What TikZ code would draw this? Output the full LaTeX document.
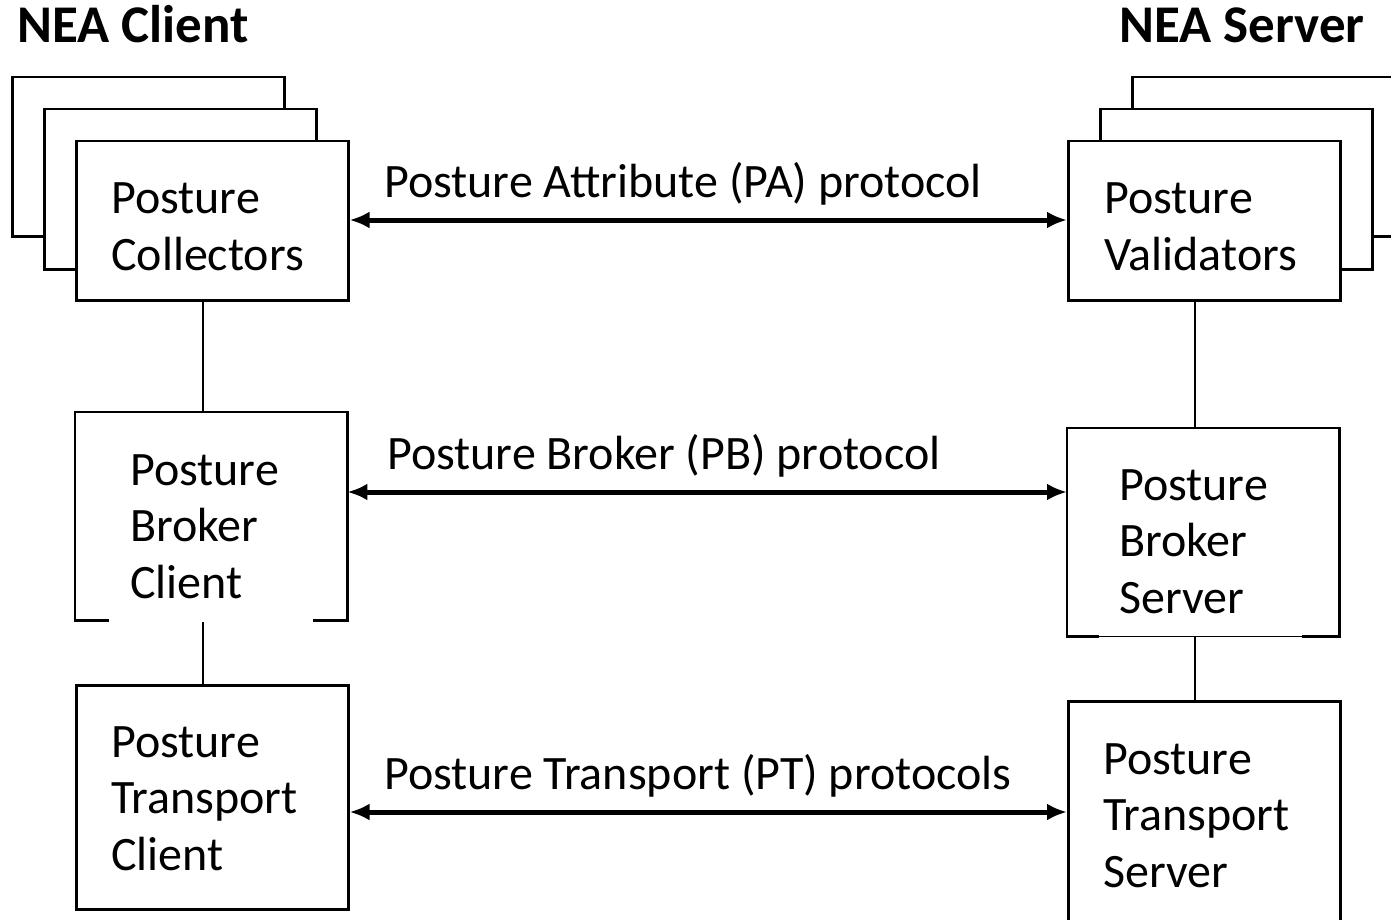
\documentclass[tikz,border=0pt]{standalone}
\usepackage{fontspec}
\setmainfont{Carlito}
\usetikzlibrary{arrows.meta}
\newcommand\twolines[2]{\vtop{\hbox{#1}\hbox{#2}}}
\newcommand\threelines[3]{\vtop{\hbox{#1}\hbox{#2}\hbox{#3}}}
\tikzset{
  box/.style={draw, line width=2.5pt, fill=white, minimum width=272pt, inner sep=0pt, anchor=north west},
  openbox/.style={minimum width=272pt, inner sep=0pt, anchor=north west},
  txt/.style={inner sep=0pt, anchor=base west, font=\fontsize{48}{56.5}\selectfont},
  head/.style={inner sep=0pt, font=\fontsize{53}{60}\selectfont\bfseries},
  proto/.style={line width=5pt, {Latex[length=20pt,width=17pt]}-{Latex[length=20pt,width=17pt]}},
  link/.style={line width=2.5pt}
}
\begin{document}
\begin{tikzpicture}[x=1pt,y=-1pt]
\useasboundingbox (0,0) rectangle (1391,920);
\clip (0,0) rectangle (1391,920);
\fill[white] (0,0) rectangle (1391,920);
% headings
\node[head, anchor=base west] (hc) at (17,43) {NEA Client};
\node[head, anchor=base east] (hs) at (1365,43) {NEA Server};
% left stack
\node[box, minimum height=159pt] (pcb) at (11,76) {};
\node[box, minimum height=160pt] (pcm) at (43,108) {};
\node[box, minimum height=159pt] (pc) at (75,140) {};
% right stack
\node[box, minimum height=159pt] (pvb) at (1131,76) {};
\node[box, minimum height=160pt] (pvm) at (1099,108) {};
\node[box, minimum height=159pt] (pv) at (1067,140) {};
% broker boxes (open bottoms)
\node[openbox, minimum height=208pt] (bc) at (75,412) {};
\draw[link] ([xshift=34pt]bc.south west) -- (bc.south west) -- (bc.north west) -- (bc.north east) -- (bc.south east) -- ([xshift=-34pt]bc.south east);
\node[openbox, minimum height=208pt] (bs) at (1067,428) {};
\draw[link] ([xshift=32pt]bs.south west) -- (bs.south west) -- (bs.north west) -- (bs.north east) -- (bs.south east) -- ([xshift=-37pt]bs.south east);
\draw[line width=1.5pt] ([xshift=32pt]bs.south west) -- ([xshift=-37pt]bs.south east);
% transport boxes
\node[box, minimum height=224pt] (tc) at (75,684) {};
\node[box, minimum height=224pt] (ts) at (1067,700) {};
% box texts
\node[txt] (tpc) at (111,214) {\twolines{Posture}{Collectors}};
\node[txt] (tpv) at (1104,214) {\twolines{Posture}{Validators}};
\node[txt] (tbc) at (130,485) {\threelines{Posture}{Broker}{Client}};
\node[txt] (tbs) at (1119,500) {\threelines{Posture}{Broker}{Server}};
\node[txt] (ttc) at (111,757) {\threelines{Posture}{Transport}{Client}};
\node[txt] (tts) at (1103,774) {\threelines{Posture}{Transport}{Server}};
% vertical links
\coordinate (lx) at (203,0);
\coordinate (rx) at (1195,0);
\draw[link] (pc.south -| lx) -- (bc.north -| lx);
\draw[link] ([yshift=-2pt]bc.south -| lx) -- (tc.north -| lx);
\draw[link] (pv.south -| rx) -- (bs.north -| rx);
\draw[link] (bs.south -| rx) -- (ts.north -| rx);
% protocol arrows
\coordinate (ypa) at (0,220);
\coordinate (ypb) at (0,492);
\coordinate (ypt) at (0,812);
\draw[proto] (pc.east |- ypa) -- (pv.west |- ypa);
\draw[proto] (bc.east |- ypb) -- (bs.west |- ypb);
\draw[proto] (tc.east |- ypt) -- (ts.west |- ypt);
\node[txt] (lpa) at (384,197) {Posture Attribute (PA) protocol};
\node[txt] (lpb) at (387,469) {Posture Broker (PB) protocol};
\node[txt] (lpt) at (384,789) {Posture Transport (PT) protocols};
\end{tikzpicture}
\end{document}
